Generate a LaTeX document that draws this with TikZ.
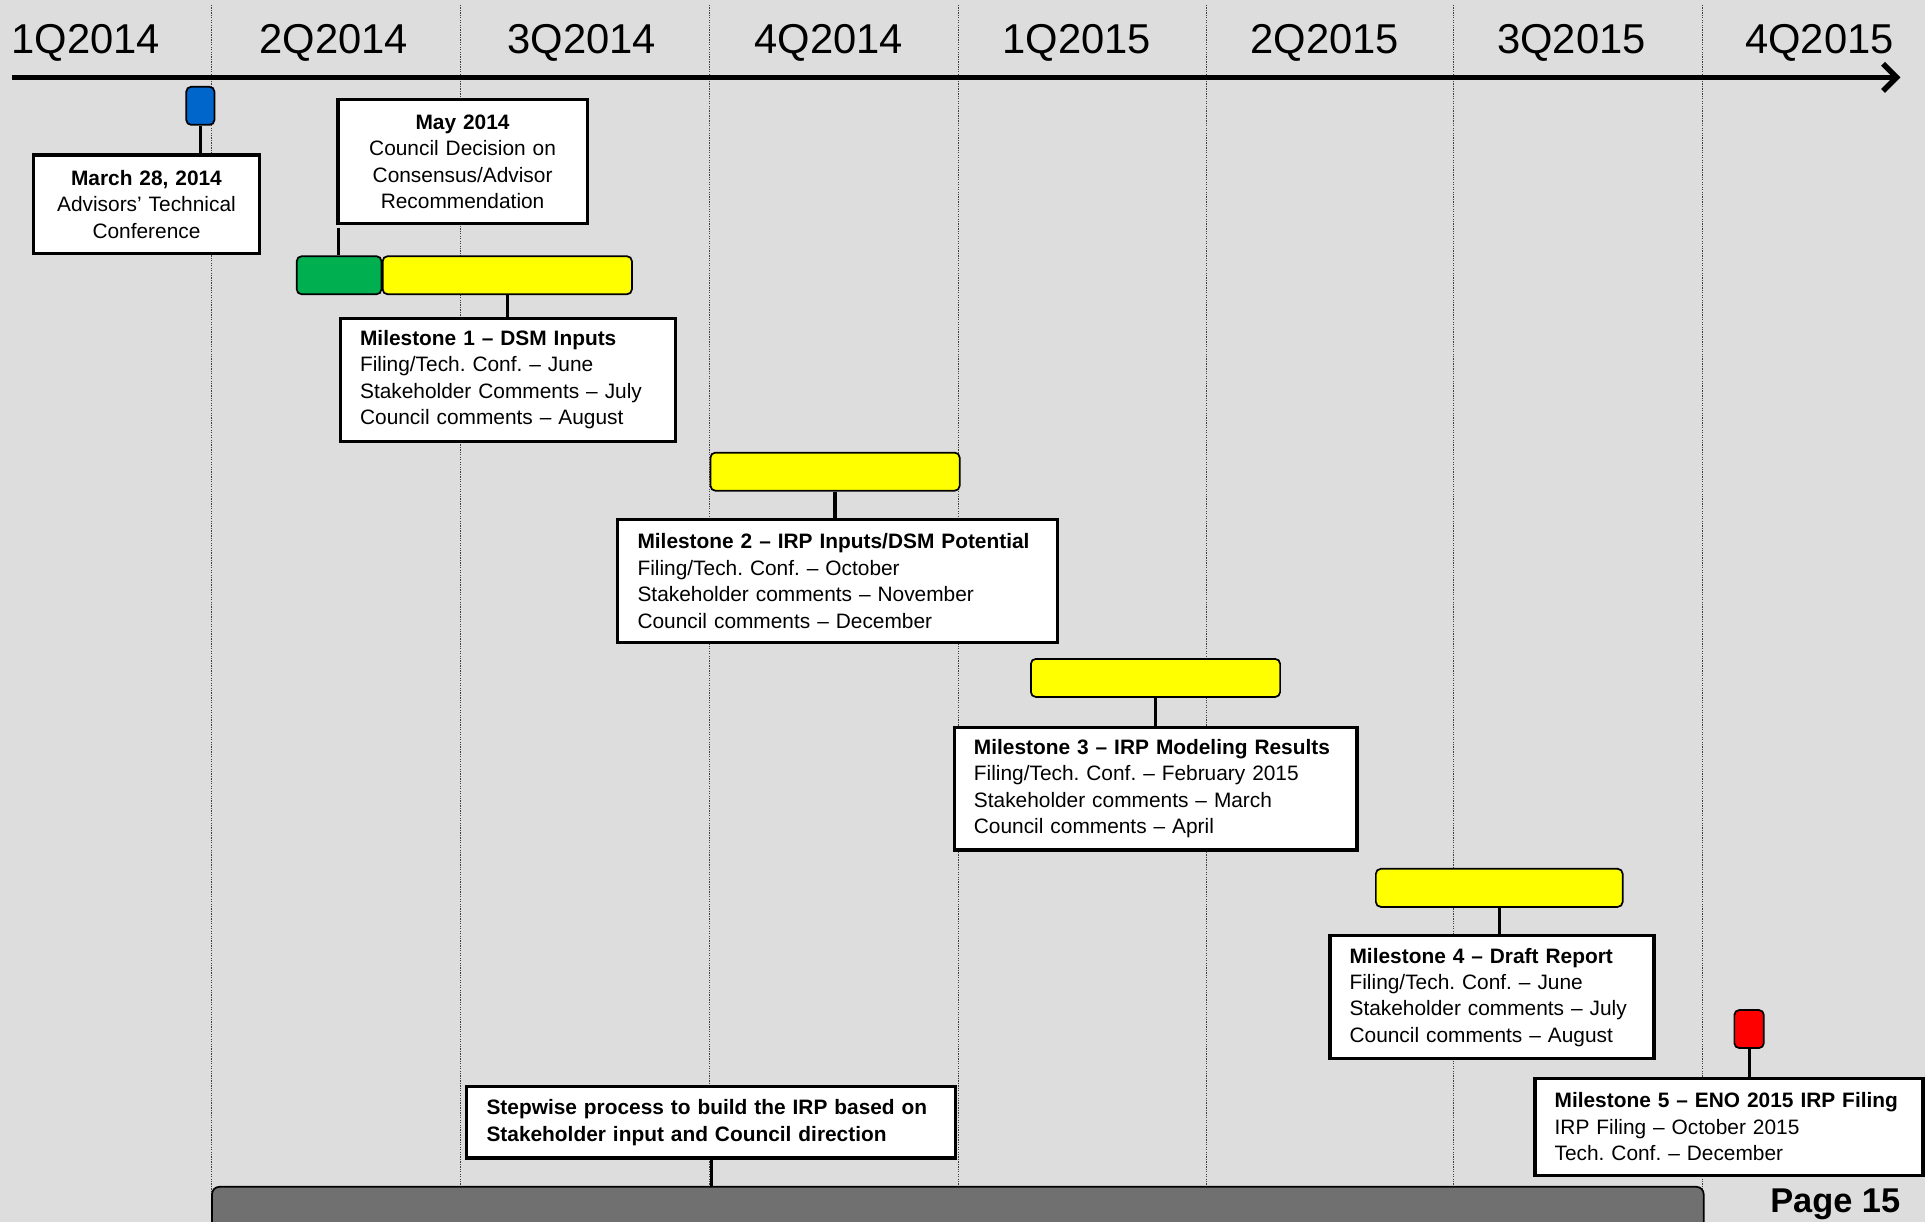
\documentclass[tikz,border=0pt]{standalone}
\usepackage{fontspec}
\setmainfont{Liberation Sans}
\usepackage{tikz}
\usetikzlibrary{arrows.meta}
\usetikzlibrary{positioning}
\usepackage{color}
\definecolor{slidegray}{RGB}{221, 221, 221}
\definecolor{baryellow}{RGB}{255, 255, 0}
\definecolor{bargreen}{RGB}{0, 176, 80}
\definecolor{barblue}{RGB}{0, 102, 204}
\definecolor{barred}{RGB}{255, 0, 0}
\definecolor{spangray}{RGB}{112, 112, 112}
\newcommand{\msfont}{\fontsize{17}{21.5}\selectfont}
\newcommand{\qfont}{\fontsize{34}{40}\selectfont}

\begin{document}
\begin{tikzpicture}[x=1pt, y=-1pt,
    qline/.style={draw=black!75, line width=0.8pt, dash pattern=on 1pt off 1pt},
    qlabel/.style={font=\qfont, inner sep=0pt},
    msbox/.style={draw, line width=2.6pt, fill=white, anchor=north west, inner xsep=16pt, inner ysep=0pt, align=left, font=\msfont},
    datebox/.style={msbox, inner xsep=5pt, align=center},
    bar/.style={draw, line width=1.4pt, rounded corners=4pt, anchor=north west, inner sep=0pt, minimum height=31pt},
    flag/.style={bar, minimum width=23pt, minimum height=31pt},
    stem/.style={line width=2.6pt}]
            % Frame & background
            \useasboundingbox                                                 (0, 0) rectangle (1568, 995);
            \clip                                                             (0, 0) rectangle (1568, 995);
            \fill[slidegray]                                                  (0, 0) rectangle (1568, 995);
            % Quarter grid
            \draw[qline] ( 172, 4) -- ( 172, 995);
            \draw[qline] ( 375, 4) -- ( 375, 995);
            \draw[qline] ( 578, 4) -- ( 578, 995);
            \draw[qline] ( 781, 4) -- ( 781, 995);
            \draw[qline] ( 983, 4) -- ( 983, 995);
            \draw[qline] (1184, 4) -- (1184, 995);
            \draw[qline] (1387, 4) -- (1387, 995);
            \node[qlabel] (q1y14) at (  70, 35) {1Q2014};
            \node[qlabel] (q2y14) at ( 272, 35) {2Q2014};
            \node[qlabel] (q3y14) at ( 474, 35) {3Q2014};
            \node[qlabel] (q4y14) at ( 675, 35) {4Q2014};
            \node[qlabel] (q1y15) at ( 877, 35) {1Q2015};
            \node[qlabel] (q2y15) at (1079, 35) {2Q2015};
            \node[qlabel] (q3y15) at (1280, 35) {3Q2015};
            \node[qlabel] (q4y15) at (1482, 35) {4Q2015};
            % Time axis
            \coordinate (tstart) at (10, 63);
            \coordinate (tend)   at (1548, 63);
            \draw[line width=4.5pt, -{Straight Barb[length=11pt, width=22pt]}] (tstart) -- (tend);
            % Advisors' conference
            \node[flag, fill=barblue] (blue) at (151, 70) {};
            \node[datebox, text width=174pt, minimum height=80pt] (mar) at (26, 125)
                 {\textbf{March 28, 2014}\\Advisors’ Technical\\Conference};
            \draw[stem] (blue.south) -- (blue.south |- mar.north);
            % Council decision
            \node[datebox, text width=193pt, minimum height=101pt] (may) at (274, 80)
                 {\textbf{May 2014}\\Council Decision on\\Consensus/Advisor\\Recommendation};
            \node[bar, fill=bargreen, minimum width=69pt] (green) at (241, 208) {};
            \draw[stem] ([xshift=2pt, yshift=-2pt]may.south west) -- ([xshift=2pt]may.south west |- green.north);
            % Milestone 1
            \node[bar, fill=baryellow, minimum width=203pt] (yel1) at (311, 208) {};
            \node[msbox, text width=241pt, minimum height=100pt] (ms1) at (276, 258)
                 {\textbf{Milestone 1 – DSM Inputs}\\Filing/Tech.\ Conf.\ – June\\Stakeholder Comments – July\\Council comments – August};
            \draw[stem] (yel1.south) -- (yel1.south |- ms1.north);
            % Milestone 2
            \node[bar, fill=baryellow, minimum width=203pt] (yel2) at (578, 368) {};
            \node[msbox, text width=326pt, minimum height=100pt] (ms2) at (502, 422)
                 {\textbf{Milestone 2 – IRP Inputs/DSM Potential}\\Filing/Tech.\ Conf.\ – October\\Stakeholder comments – November\\Council comments – December};
            \draw[stem] (yel2.south) -- (yel2.south |- ms2.north);
            % Milestone 3
            \node[bar, fill=baryellow, minimum width=203pt] (yel3) at (839, 536) {};
            \node[msbox, text width=296pt, minimum height=100pt] (ms3) at (776, 591)
                 {\textbf{Milestone 3 – IRP Modeling Results}\\Filing/Tech.\ Conf.\ – February 2015\\Stakeholder comments – March\\Council comments – April};
            \draw[stem] (yel3.south) -- (yel3.south |- ms3.north);
            % Milestone 4
            \node[bar, fill=baryellow, minimum width=201pt] (yel4) at (1120, 707) {};
            \node[msbox, text width=232pt, minimum height=100pt] (ms4) at (1082, 761)
                 {\textbf{Milestone 4 – Draft Report}\\Filing/Tech.\ Conf.\ – June\\Stakeholder comments – July\\Council comments – August};
            \draw[stem] (yel4.south) -- (yel4.south |- ms4.north);
            % Milestone 5
            \node[flag, fill=barred, minimum width=24pt] (red) at (1412, 822) {};
            \node[msbox, text width=284pt, minimum height=79pt] (ms5) at (1249, 877)
                 {\textbf{Milestone 5 – ENO 2015 IRP Filing}\\IRP Filing – October 2015\\Tech.\ Conf.\ – December};
            \draw[stem] (red.south) -- (red.south |- ms5.north);
            % Overall process
            \node[bar, fill=spangray, rounded corners=6pt, minimum width=1215pt, minimum height=50pt] (span) at (172, 966) {};
            \node[msbox, text width=366pt, minimum height=58pt, font=\msfont\bfseries] (stepnote) at (379, 884)
                 {Stepwise process to build the IRP based on\\Stakeholder input and Council direction};
            \draw[stem] (stepnote.south) -- (stepnote.south |- span.north);
            % Page number
            \node[anchor=base east, inner sep=0pt, font=\fontsize{28}{32}\selectfont\bfseries] (page) at (1548, 988) {Page 15};
        \end{tikzpicture}
\end{document}
